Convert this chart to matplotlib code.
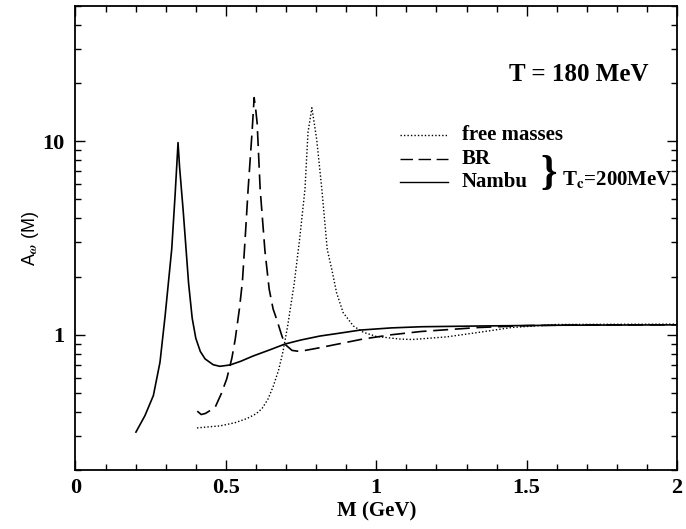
import numpy as np
import matplotlib
matplotlib.use("Agg")
import matplotlib.pyplot as plt
from matplotlib.ticker import LogLocator, NullFormatter, FixedLocator, MultipleLocator

plt.rcParams['font.family'] = 'Liberation Serif'
plt.rcParams['font.weight'] = 'bold'
plt.rcParams['mathtext.fontset'] = 'stix'

# spectral function A_omega(M)
M_nambu = [0.201, 0.231, 0.259, 0.281, 0.298, 0.309, 0.320, 0.331, 0.337, 0.341,
           0.346, 0.352, 0.358, 0.366, 0.376, 0.388, 0.400, 0.415, 0.431, 0.458,
           0.48, 0.514, 0.55, 0.59, 0.65, 0.696, 0.75, 0.813, 0.88, 0.946,
           1.05, 1.15, 1.345, 1.6, 2.0]
A_nambu = [0.314, 0.382, 0.485, 0.721, 1.25, 1.86, 2.77, 5.2, 7.6, 9.84,
           7.4, 5.7, 4.4, 3.0, 1.85, 1.22, 0.96, 0.82, 0.75, 0.70,
           0.687, 0.698, 0.73, 0.776, 0.84, 0.895, 0.94, 0.985, 1.02, 1.057,
           1.085, 1.10, 1.11, 1.12, 1.125]

M_br = [0.405, 0.418, 0.432, 0.45, 0.465, 0.485, 0.503, 0.52, 0.531, 0.545,
        0.555, 0.565, 0.574, 0.587, 0.594, 0.599, 0.604, 0.614, 0.63, 0.644,
        0.657, 0.669, 0.685, 0.696, 0.72, 0.745, 0.80, 0.88, 0.955, 1.05,
        1.15, 1.34, 1.5, 1.7, 2.0]
A_br = [0.403, 0.387, 0.392, 0.408, 0.424, 0.497, 0.592, 0.758, 0.945, 1.36,
        1.88, 3.31, 5.66, 11.1, 16.8, 14.7, 12.4, 5.66, 2.70, 1.72,
        1.36, 1.20, 1.0, 0.894, 0.83, 0.82, 0.85, 0.90, 0.95, 1.0,
        1.04, 1.09, 1.115, 1.125, 1.125]

M_free = [0.404, 0.45, 0.48, 0.53, 0.57, 0.60, 0.62, 0.64, 0.657, 0.675,
          0.69, 0.705, 0.727, 0.745, 0.763, 0.773, 0.786, 0.802, 0.819, 0.837,
          0.852, 0.868, 0.89, 0.924, 0.957, 1.0, 1.079, 1.12, 1.234, 1.343,
          1.45, 1.6, 2.0]
A_free = [0.33, 0.335, 0.338, 0.351, 0.369, 0.39, 0.415, 0.465, 0.539, 0.654,
          0.82, 1.10, 1.83, 3.1, 5.66, 11.1, 14.9, 10.2, 5.66, 2.76,
          2.18, 1.65, 1.30, 1.11, 1.03, 0.98, 0.95, 0.945, 0.975, 1.03,
          1.09, 1.13, 1.135]

x_ticks = [0, 0.5, 1, 1.5, 2]
x_labels = ['0', '0.5', '1', '1.5', '2']
y_ticks = [1, 10]
y_labels = ['1', '10']

fig = plt.figure(figsize=(6.86, 5.29), dpi=100)
ax = fig.add_axes([0.110, 0.1115, 0.877, 0.8772])

ax.plot(M_free, A_free, color='black', lw=1.0, linestyle=(0, (1, 1.5)))
ax.plot(M_br, A_br, color='black', lw=1.2, linestyle=(0, (9, 4)))
ax.plot(M_nambu, A_nambu, color='black', lw=1.2)

ax.set_yscale('log')
ax.set_xlim(0, 2)
ax.set_ylim(0.2, 50)

ax.xaxis.set_major_locator(FixedLocator(x_ticks))
ax.xaxis.set_minor_locator(MultipleLocator(0.1))
ax.set_xticklabels(x_labels)
ax.yaxis.set_major_locator(FixedLocator(y_ticks))
ax.set_yticklabels(y_labels)
ax.yaxis.set_minor_locator(LogLocator(base=10, subs=np.arange(2, 10)))
ax.yaxis.set_minor_formatter(NullFormatter())

ax.tick_params(which='both', direction='in', top=True, right=True, width=1.0)
ax.tick_params(which='major', length=7, labelsize=16, pad=8)
ax.tick_params(axis='x', which='major', pad=6)
ax.tick_params(which='minor', length=4)
for s in ax.spines.values():
    s.set_linewidth(1.3)

ax.set_xlabel('M (GeV)', fontsize=15, fontweight='bold', labelpad=2)
ax.set_ylabel(r'A$_\omega$ (M)', fontsize=13, family='Liberation Sans',
              fontweight='normal', labelpad=1)

ax.text(0.837, 0.852, 'T = 180 MeV', transform=ax.transAxes, fontsize=18,
        fontweight='bold', ha='center', va='center')

# legend drawn by hand
leg_y = [0.723, 0.670, 0.620]
leg_names = ['free masses', 'BR', 'Nambu']
leg_styles = [(0, (1, 1.5)), (0, (9, 4)), '-']
for yy, nm, st in zip(leg_y, leg_names, leg_styles):
    ax.plot([0.539, 0.619], [yy, yy], transform=ax.transAxes, color='black',
            lw=1.0, linestyle=st)
    ax.text(0.642, yy, nm, transform=ax.transAxes, fontsize=15,
            fontweight='bold', ha='left', va='center')

ax.text(0.786, 0.637, '}', transform=ax.transAxes, fontsize=30,
        fontweight='bold', ha='center', va='center')
ax.text(0.809, 0.627, r'T$_{\mathbf{c}}$=200MeV', transform=ax.transAxes,
        fontsize=15, fontweight='bold', ha='left', va='center')

fig.savefig('out.png', dpi=100)
